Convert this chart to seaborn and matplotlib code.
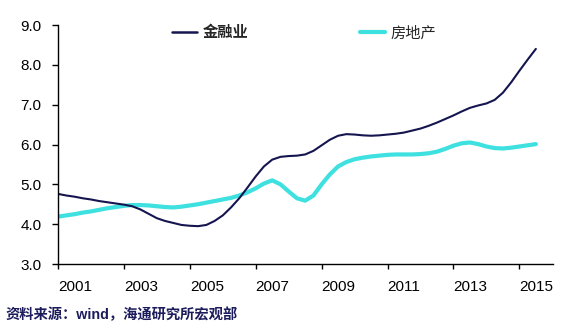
import matplotlib
matplotlib.use("Agg")
import matplotlib.pyplot as plt
from matplotlib.lines import Line2D
import seaborn as sns
import pandas as pd

# Quarterly sampling points, 2001 to mid-2015
years = [2001.00, 2001.25, 2001.50, 2001.75, 2002.00, 2002.25, 2002.50, 2002.75,
         2003.00, 2003.25, 2003.50, 2003.75, 2004.00, 2004.25, 2004.50, 2004.75,
         2005.00, 2005.25, 2005.50, 2005.75, 2006.00, 2006.25, 2006.50, 2006.75,
         2007.00, 2007.25, 2007.50, 2007.75, 2008.00, 2008.25, 2008.50, 2008.75,
         2009.00, 2009.25, 2009.50, 2009.75, 2010.00, 2010.25, 2010.50, 2010.75,
         2011.00, 2011.25, 2011.50, 2011.75, 2012.00, 2012.25, 2012.50, 2012.75,
         2013.00, 2013.25, 2013.50, 2013.75, 2014.00, 2014.25, 2014.50, 2014.75,
         2015.00, 2015.25, 2015.50]

finance = [4.76, 4.72, 4.69, 4.65, 4.62, 4.58, 4.55, 4.52,
           4.49, 4.45, 4.37, 4.26, 4.15, 4.08, 4.03, 3.98,
           3.96, 3.95, 3.98, 4.08, 4.22, 4.42, 4.65, 4.92,
           5.20, 5.45, 5.62, 5.69, 5.71, 5.72, 5.75, 5.84,
           5.98, 6.12, 6.22, 6.26, 6.25, 6.23, 6.22, 6.23,
           6.25, 6.27, 6.30, 6.35, 6.40, 6.47, 6.55, 6.64,
           6.73, 6.83, 6.92, 6.98, 7.03, 7.12, 7.30, 7.56,
           7.85, 8.13, 8.40]

real_estate = [4.19, 4.22, 4.25, 4.29, 4.32, 4.36, 4.40, 4.43,
               4.46, 4.48, 4.48, 4.47, 4.45, 4.43, 4.42, 4.44,
               4.47, 4.50, 4.54, 4.58, 4.62, 4.66, 4.72, 4.80,
               4.90, 5.02, 5.10, 5.00, 4.82, 4.65, 4.59, 4.72,
               5.00, 5.25, 5.45, 5.56, 5.63, 5.67, 5.70, 5.72,
               5.74, 5.75, 5.75, 5.75, 5.76, 5.78, 5.82, 5.89,
               5.97, 6.03, 6.05, 6.01, 5.95, 5.91, 5.90, 5.92,
               5.95, 5.98, 6.01]

series_names = ["金融业", "房地产"]
x_tick_years = [2001, 2003, 2005, 2007, 2009, 2011, 2013, 2015]
y_ticks = [3.0, 4.0, 5.0, 6.0, 7.0, 8.0, 9.0]

navy = "#15154f"
cyan = "#3ee0e0"

sns.set_theme(style="white")
plt.rcParams["font.family"] = ["Liberation Sans", "Noto Sans CJK SC", "DejaVu Sans"]

df = pd.DataFrame({
    "year": years * 2,
    "value": finance + real_estate,
    "series": [series_names[0]] * len(years) + [series_names[1]] * len(years),
})

fig = plt.figure(figsize=(5.69, 3.29), dpi=100)
ax = fig.add_axes([58 / 569, 1 - 264 / 329, (553 - 58) / 569, (264 - 25) / 329])

sns.lineplot(data=df[df["series"] == series_names[1]], x="year", y="value",
             color=cyan, linewidth=3.0, ax=ax, legend=False,
             solid_joinstyle="round", solid_capstyle="round")
sns.lineplot(data=df[df["series"] == series_names[0]], x="year", y="value",
             color=navy, linewidth=1.5, ax=ax, legend=False,
             solid_joinstyle="round", solid_capstyle="round")

ax.set_xlim(2001, 2016.02)
ax.set_ylim(3.0, 9.0)
ax.set_xlabel("")
ax.set_ylabel("")

ax.set_yticks(y_ticks)
ax.set_yticklabels([f"{v:.1f}" for v in y_ticks])
ax.set_xticks(x_tick_years)
ax.set_xticklabels([str(y) for y in x_tick_years], ha="left")

for side in ("top", "right"):
    ax.spines[side].set_visible(False)
for side in ("left", "bottom"):
    ax.spines[side].set_color("black")
    ax.spines[side].set_linewidth(1.0)

ax.tick_params(axis="y", which="major", direction="out", length=4, width=1,
               color="black", pad=8, labelsize=11, labelcolor="black", left=True)
ax.tick_params(axis="x", which="major", direction="out", length=3.5, width=1,
               color="black", pad=8, labelsize=11, labelcolor="black", bottom=True)

handles = [Line2D([0], [0], color=navy, linewidth=1.8),
           Line2D([0], [0], color=cyan, linewidth=3.0)]
leg = fig.legend(handles, series_names, loc="center left",
                 bbox_to_anchor=(172 / 569, 1 - 33 / 329), ncol=2, frameon=False,
                 borderpad=0, borderaxespad=0, handlelength=1.65,
                 handletextpad=0.35, columnspacing=7.3,
                 prop={"size": 11})
leg.get_texts()[0].set_fontweight("bold")

fig.text(5 / 569, 1 - 315 / 329, "资料来源：wind，海通研究所宏观部",
         ha="left", va="center", fontsize=10.3, fontweight="bold", color="#1c1c5c")

fig.savefig("out.png", dpi=100)
